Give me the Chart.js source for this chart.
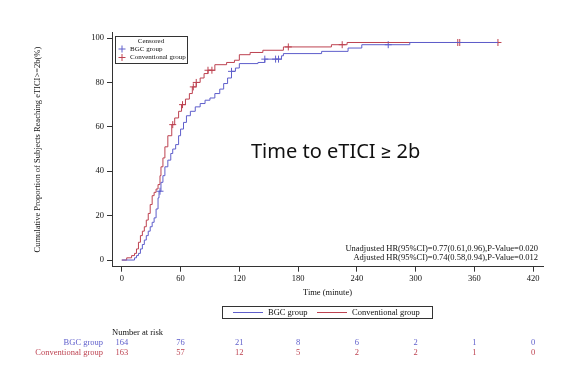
<!DOCTYPE html>
<html>
<head>
<meta charset="utf-8">
<script src="https://cdn.jsdelivr.net/npm/chart.js@4.4.1/dist/chart.umd.min.js"></script>
<style>
html, body { margin: 0; background: #fff; }
#wrap { width: 584px; height: 385px; position: relative; }
</style>
</head>
<body>
<div id="wrap"><canvas id="myChart"></canvas></div>
<script>
// curve BGC: tempo (minuti) e percentuale cumulativa
const bgcTime = [0, 13, 15, 17, 19, 21, 23, 25, 27, 29, 31, 33, 35, 37, 38, 40, 42, 44, 47, 50, 52, 55, 58, 60, 63, 66, 70, 75, 80, 85, 90, 95, 100, 104, 108, 112, 116, 120, 139, 146, 163, 165, 204, 231, 245, 294, 384];
const bgcPct = [0, 1, 2, 3, 5, 7, 9, 11, 13, 15, 17, 19, 23, 28, 31, 35, 38, 42, 45, 48, 50, 52, 56, 59, 62, 65, 67, 69, 70.5, 72, 73, 75, 77, 79.5, 82, 85, 86.5, 88.5, 89, 90.5, 92, 93, 94, 95.5, 97, 98, 98];
// curve Conventional
const convTime = [0, 5, 10, 13, 15, 17, 19, 21, 23, 25, 27, 29, 31, 33, 35, 37, 39, 40, 42, 44, 47, 51, 54, 58, 61, 65, 69, 72, 76, 80, 84, 88, 95, 107, 115, 120, 131, 144, 165, 214, 230, 384];
const convPct = [0, 1, 2, 3, 5, 8, 11, 13, 15, 18, 21, 25, 29, 30.5, 32, 34, 38, 42, 46, 51, 56, 61, 64, 67, 70, 72.5, 75, 78, 80, 82, 84, 85.5, 88, 89, 90, 92.5, 93.5, 94.5, 96, 97, 98, 98];
// tempi censurati
const bgcCensor = [39, 112, 146, 157, 160, 272];
const convCensor = [52, 62, 73, 76, 88, 92, 170, 225, 343, 345, 384];
// assi
const xTicks = [0, 60, 120, 180, 240, 300, 360, 420];
const yTicks = [0, 20, 40, 60, 80, 100];
// numero a rischio
const riskGroups = ['BGC group', 'Conventional group'];
const bgcRisk = [164, 76, 21, 8, 6, 2, 1, 0];
const convRisk = [163, 57, 12, 5, 2, 2, 1, 0];

const blue = '#5e5ecb';
const red = '#bd4250';
const serif = '"Liberation Serif", "DejaVu Serif", serif';

// valore della curva a gradini al tempo t
function stepValue(times, pcts, t) {
  let v = 0;
  for (let i = 0; i < times.length; i++) {
    if (times[i] <= t) v = pcts[i];
  }
  return v;
}

const toPoints = (times, pcts) => times.map((t, i) => ({ x: t, y: pcts[i] }));
const censorPoints = (cens, times, pcts) => cens.map(t => ({ x: t, y: stepValue(times, pcts, t) }));

const extras = {
  id: 'extras',
  afterDraw(chart) {
    const { ctx, scales: { x } } = chart;
    ctx.save();

    // riquadro "Censored"
    ctx.strokeStyle = '#333';
    ctx.lineWidth = 1;
    ctx.strokeRect(115.5, 36.5, 72, 27);
    ctx.fillStyle = '#111';
    ctx.font = '7px ' + serif;
    ctx.textAlign = 'center';
    ctx.textBaseline = 'middle';
    ctx.fillText('Censored', 151, 41);
    const crossRow = (y, col, label) => {
      ctx.strokeStyle = col;
      ctx.beginPath();
      ctx.moveTo(118.5, y); ctx.lineTo(125.5, y);
      ctx.moveTo(122, y - 3.5); ctx.lineTo(122, y + 3.5);
      ctx.stroke();
      ctx.fillStyle = '#111';
      ctx.textAlign = 'left';
      ctx.fillText(label, 130, y);
    };
    crossRow(49, blue, 'BGC group');
    crossRow(57.5, red, 'Conventional group');

    // titolo grande
    ctx.fillStyle = '#111';
    ctx.font = '20px "Noto Sans", Roboto, sans-serif';
    ctx.textAlign = 'left';
    ctx.fillText('Time to eTICI \u2265 2b', 251, 152);

    // testo HR
    ctx.font = '8.5px ' + serif;
    ctx.textAlign = 'right';
    ctx.fillText('Unadjusted HR(95%CI)=0.77(0.61,0.96),P-Value=0.020', 538, 249);
    ctx.fillText('Adjusted HR(95%CI)=0.74(0.58,0.94),P-Value=0.012', 538, 257.5);

    // legenda in basso
    ctx.strokeStyle = '#333';
    ctx.strokeRect(222.5, 306.5, 210, 12);
    ctx.lineWidth = 1;
    ctx.strokeStyle = blue;
    ctx.beginPath(); ctx.moveTo(233, 312.5); ctx.lineTo(263, 312.5); ctx.stroke();
    ctx.strokeStyle = red;
    ctx.beginPath(); ctx.moveTo(317, 312.5); ctx.lineTo(347, 312.5); ctx.stroke();
    ctx.font = '8.5px ' + serif;
    ctx.textAlign = 'left';
    ctx.fillStyle = '#111';
    ctx.fillText('BGC group', 268, 313);
    ctx.fillText('Conventional group', 352, 313);

    // tabella numero a rischio
    ctx.font = '8.5px ' + serif;
    ctx.fillText('Number at risk', 112, 333);
    ctx.textAlign = 'right';
    ctx.fillStyle = blue;
    ctx.fillText(riskGroups[0], 103, 343);
    ctx.fillStyle = red;
    ctx.fillText(riskGroups[1], 103, 353);
    ctx.textAlign = 'center';
    xTicks.forEach((t, i) => {
      const px = x.getPixelForValue(t);
      ctx.fillStyle = blue;
      ctx.fillText(String(bgcRisk[i]), px, 343);
      ctx.fillStyle = red;
      ctx.fillText(String(convRisk[i]), px, 353);
    });
    ctx.restore();
  }
};

new Chart(document.getElementById('myChart'), {
  type: 'line',
  data: {
    datasets: [
      { label: 'BGC group', data: toPoints(bgcTime, bgcPct), borderColor: blue, borderWidth: 1, stepped: true, pointRadius: 0, fill: false },
      { label: 'Conventional group', data: toPoints(convTime, convPct), borderColor: red, borderWidth: 1, stepped: true, pointRadius: 0, fill: false },
      { label: 'BGC censored', data: censorPoints(bgcCensor, bgcTime, bgcPct), showLine: false, pointStyle: 'cross', pointRadius: 3.5, pointBorderWidth: 1, borderColor: blue, backgroundColor: blue },
      { label: 'Conventional censored', data: censorPoints(convCensor, convTime, convPct), showLine: false, pointStyle: 'cross', pointRadius: 3.5, pointBorderWidth: 1, borderColor: red, backgroundColor: red }
    ]
  },
  options: {
    responsive: true,
    maintainAspectRatio: false,
    animation: false,
    layout: { padding: { left: 0, top: 32.5, right: 41, bottom: 86.3 } },
    plugins: { legend: { display: false }, tooltip: { enabled: false } },
    scales: {
      x: {
        type: 'linear',
        min: -10,
        max: 430,
        afterBuildTicks: (s) => { s.ticks = xTicks.map(v => ({ value: v })); },
        afterFit: (s) => { s.height = 32; },
        grid: { drawOnChartArea: false, tickLength: 5, color: '#333' },
        border: { color: '#333' },
        ticks: { color: '#111', font: { family: serif, size: 8.5 }, padding: 2, maxRotation: 0 },
        title: { display: true, text: 'Time (minute)', color: '#111', font: { family: serif, size: 8.5 }, padding: { top: 0, bottom: 1 } }
      },
      y: {
        min: -3,
        max: 102.5,
        afterBuildTicks: (s) => { s.ticks = yTicks.map(v => ({ value: v })); },
        afterFit: (s) => { s.width = 112; },
        grid: { drawOnChartArea: false, tickLength: 5, color: '#333' },
        border: { color: '#333' },
        ticks: { color: '#111', font: { family: serif, size: 8.5 }, padding: 3 },
        title: { display: true, text: 'Cumulative Proportion of Subjects Reaching eTICI>=2b(%)', color: '#111', font: { family: serif, size: 8.5 }, padding: { top: 33, bottom: 0 } }
      }
    }
  },
  plugins: [extras]
});
</script>
</body>
</html>
